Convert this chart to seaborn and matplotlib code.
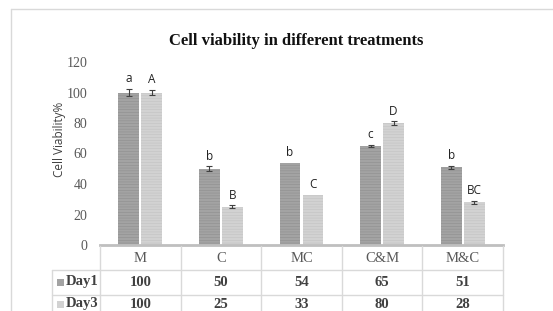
import pandas as pd
import matplotlib.pyplot as plt
import seaborn as sns
from matplotlib.lines import Line2D
from matplotlib.patches import Rectangle

treatments = ["M", "C", "MC", "C&M", "M&C"]
day1 = [100, 50, 54, 65, 51]
day3 = [100, 25, 33, 80, 28]
err1 = [2.5, 1.5, 0, 0.5, 1.0]
err3 = [1.5, 1.0, 0, 1.0, 1.0]
letters1 = ["a", "b", "b", "c", "b"]
letters3 = ["A", "B", "C", "D", "BC"]
days = ["Day1", "Day3"]
colors = ["#a3a3a3", "#d2d2d2"]

df = pd.DataFrame({
    "Treatment": treatments * 2,
    "Viability": day1 + day3,
    "Day": ["Day1"] * 5 + ["Day3"] * 5,
})

sns.set_style("white")
plt.rcParams["hatch.linewidth"] = 0.4

W, H = 553, 311
fig = plt.figure(figsize=(W / 100, H / 100), dpi=100)

def fx(px):
    return px / W

def fy(py):
    return 1 - py / H

ax = fig.add_axes([fx(100), fy(245), fx(503) - fx(100), fy(62) - fy(245)])
sns.barplot(data=df, x="Treatment", y="Viability", hue="Day", palette=colors,
            width=0.57, gap=0.1, legend=False, ax=ax, errorbar=None)

# striped fill like the Excel texture
for i, bar in enumerate(ax.patches):
    shade = "#8f8f8f" if i < 5 else "#c2c2c2"
    bar.set_edgecolor(shade)
    bar.set_linewidth(0)
    bar.set_hatch("------")

errs = err1 + err3
labs = letters1 + letters3
vals = day1 + day3
for bar, v, e, lab in zip(ax.patches, vals, errs, labs):
    cx = bar.get_x() + bar.get_width() / 2
    if e > 0:
        ax.errorbar(cx, v, yerr=e, color="#404040", capsize=2.5, lw=0.8, capthick=0.8)
    ax.text(cx, v + e + 2.5, lab, ha="center", va="bottom", fontsize=8.5,
            family="Open Sans", color="#222222")

ax.set_ylim(0, 120)
ax.set_yticks(range(0, 121, 20))
ax.set_xlim(-0.5, 4.5)
ax.set_xticks([])
ax.set_xlabel("")
ax.set_ylabel("")
for s in ["top", "right", "left"]:
    ax.spines[s].set_visible(False)
ax.spines["bottom"].set_color("#bfbfbf")
ax.spines["bottom"].set_linewidth(2)
ax.tick_params(axis="y", length=0, pad=9, labelsize=10, labelcolor="#595959")
for t in ax.get_yticklabels():
    t.set_family("Liberation Serif")

fig.text(fx(296), fy(41), "Cell viability in different treatments", ha="center", va="center",
         fontsize=12, fontweight="bold", family="Liberation Serif", color="#111111")
fig.text(fx(60), fy(139), "Cell Viability%", rotation=90, ha="center", va="center",
         fontsize=8.5, family="Open Sans", color="#404040")

# outer frame
fig.add_artist(Line2D([fx(11), 1], [fy(9), fy(9)], color="#d9d9d9", lw=1))
fig.add_artist(Line2D([fx(11), fx(11)], [fy(9), 0], color="#d9d9d9", lw=1))

# data table below the axis
col_w = (503 - 100) / 5
grid = "#d9d9d9"
fig.add_artist(Line2D([fx(100), fx(100)], [fy(246), 0], color=grid, lw=1))
for i in range(1, 6):
    x = 100 + i * col_w
    fig.add_artist(Line2D([fx(x), fx(x)], [fy(246), 0], color=grid, lw=1))
fig.add_artist(Line2D([fx(52), fx(52)], [fy(270), 0], color=grid, lw=1))
for y in [270, 295]:
    fig.add_artist(Line2D([fx(52), fx(503)], [fy(y), fy(y)], color=grid, lw=1))

for i, name in enumerate(treatments):
    cx = 100 + (i + 0.5) * col_w
    fig.text(fx(cx), fy(258), name, ha="center", va="center", fontsize=10.5,
             family="Liberation Serif", color="#595959")
    fig.text(fx(cx), fy(282), str(day1[i]), ha="center", va="center", fontsize=10.5,
             family="Liberation Serif", fontweight="bold", color="#404040")
    fig.text(fx(cx), fy(304), str(day3[i]), ha="center", va="center", fontsize=10.5,
             family="Liberation Serif", fontweight="bold", color="#404040")

for j, (d, c, y) in enumerate(zip(days, colors, [282, 304])):
    fig.add_artist(Rectangle((fx(57), fy(y + 3.5)), fx(7), fy(0) - fy(7),
                             facecolor=c, edgecolor="none", transform=fig.transFigure))
    fig.text(fx(66), fy(y), d, ha="left", va="center", fontsize=10.5,
             family="Liberation Serif", fontweight="bold", color="#404040")

fig.savefig("out.png", dpi=100, facecolor="white")
